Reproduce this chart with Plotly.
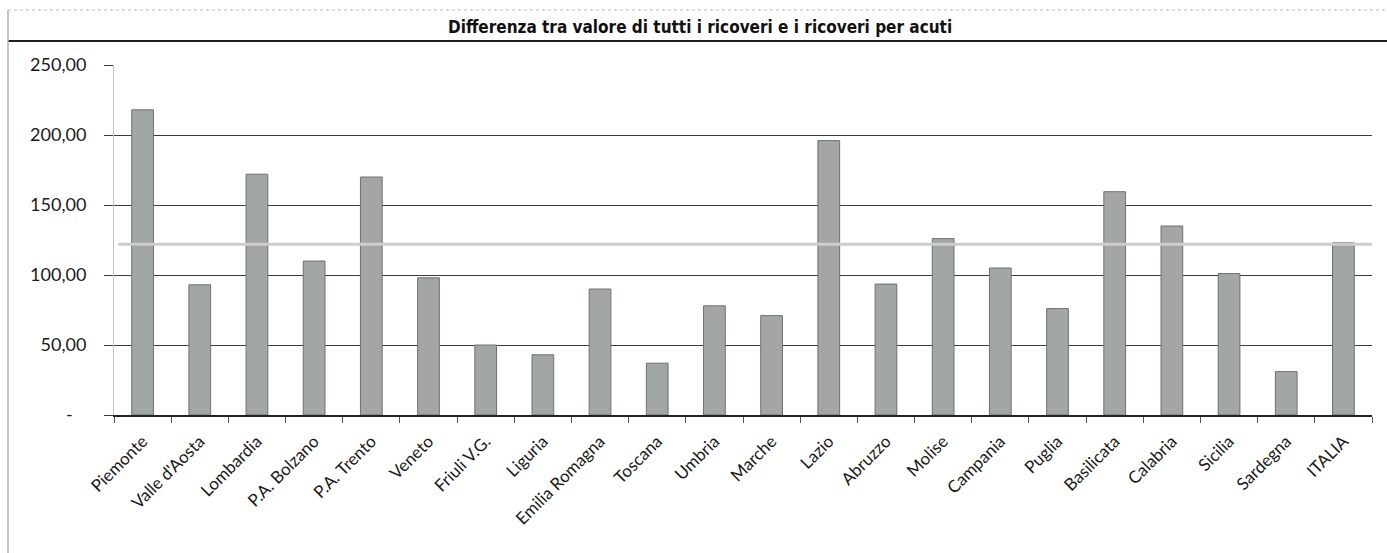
import plotly.graph_objects as go

# Differenza tra valore di tutti i ricoveri e i ricoveri per acuti, per regione
regioni = [
    "Piemonte", "Valle d'Aosta", "Lombardia", "P.A. Bolzano", "P.A. Trento",
    "Veneto", "Friuli V.G.", "Liguria", "Emilia Romagna", "Toscana",
    "Umbria", "Marche", "Lazio", "Abruzzo", "Molise", "Campania", "Puglia",
    "Basilicata", "Calabria", "Sicilia", "Sardegna", "ITALIA",
]
differenza = [
    218, 93, 172, 110, 170,
    98, 50, 43, 90, 37,
    78, 71, 196, 93.5, 126, 105, 76,
    159.5, 135, 101, 31, 123,
]
riferimento = 122

y_tickvals = [0, 50, 100, 150, 200, 250]
y_ticktext = ["-\u00a0\u00a0\u00a0", "50,00", "100,00", "150,00", "200,00", "250,00"]

W, H = 1387, 553
ML, MR, MT, MB = 114, 15, 65, 138
PW, PH = W - ML - MR, H - MT - MB


def px_x(px):
    return (px - ML) / PW


def px_y(py):
    return (H - MB - py) / PH


fig = go.Figure()
fig.add_trace(go.Bar(
    x=regioni,
    y=differenza,
    marker=dict(color="#a2a7a4", line=dict(color="#6f716f", width=1)),
    hoverinfo="x+y",
))

# linea orizzontale di riferimento
fig.add_shape(type="line", xref="paper", yref="y", x0=0.003, x1=1, y0=riferimento, y1=riferimento,
              line=dict(color="#cdcdcd", width=3), layer="above")

# cornice del grafico
fig.add_shape(type="line", xref="paper", yref="paper", x0=px_x(8), x1=px_x(W), y0=px_y(10), y1=px_y(10),
              line=dict(color="#bdbdbd", width=1, dash="dot"))
fig.add_shape(type="line", xref="paper", yref="paper", x0=px_x(8), x1=px_x(W), y0=px_y(41), y1=px_y(41),
              line=dict(color="#1e1e1e", width=2))
fig.add_shape(type="line", xref="paper", yref="paper", x0=px_x(8), x1=px_x(8), y0=px_y(10), y1=px_y(H),
              line=dict(color="#b5b5b5", width=1.5))

fig.add_annotation(
    text="<b>Differenza tra valore di tutti i ricoveri e i ricoveri per acuti</b>",
    xref="paper", yref="paper", x=px_x(700), y=px_y(27),
    xanchor="center", yanchor="middle", showarrow=False,
    font=dict(family="Liberation Sans Narrow, DejaVu Sans Condensed, Arial Narrow, sans-serif",
              size=17, color="#111111"),
)

fig.update_layout(
    width=W, height=H,
    margin=dict(l=ML, r=MR, t=MT, b=MB),
    paper_bgcolor="white", plot_bgcolor="white",
    showlegend=False,
    bargap=0.62,
    font=dict(family="Lato, Carlito, Calibri, sans-serif", color="#1a1a1a"),
)
fig.update_xaxes(
    tickangle=-45,
    tickfont=dict(size=17, color="#1a1a1a"),
    ticks="outside", tickson="boundaries", ticklen=6, tickcolor="#555555",
    ticklabelstandoff=8,
    showline=True, linecolor="#222222", linewidth=1.5,
    showgrid=False,
)
fig.update_yaxes(
    range=[0, 250],
    tickvals=y_tickvals, ticktext=y_ticktext,
    tickfont=dict(size=18, color="#1a1a1a"),
    ticks="outside", ticklen=9, tickcolor="#3c3c3c",
    ticklabelstandoff=14,
    showgrid=True, gridcolor="#3c3c3c", gridwidth=1,
    showline=True, linecolor="#c4c4c4", linewidth=1,
    zeroline=False,
)

fig.write_html("out.html")
